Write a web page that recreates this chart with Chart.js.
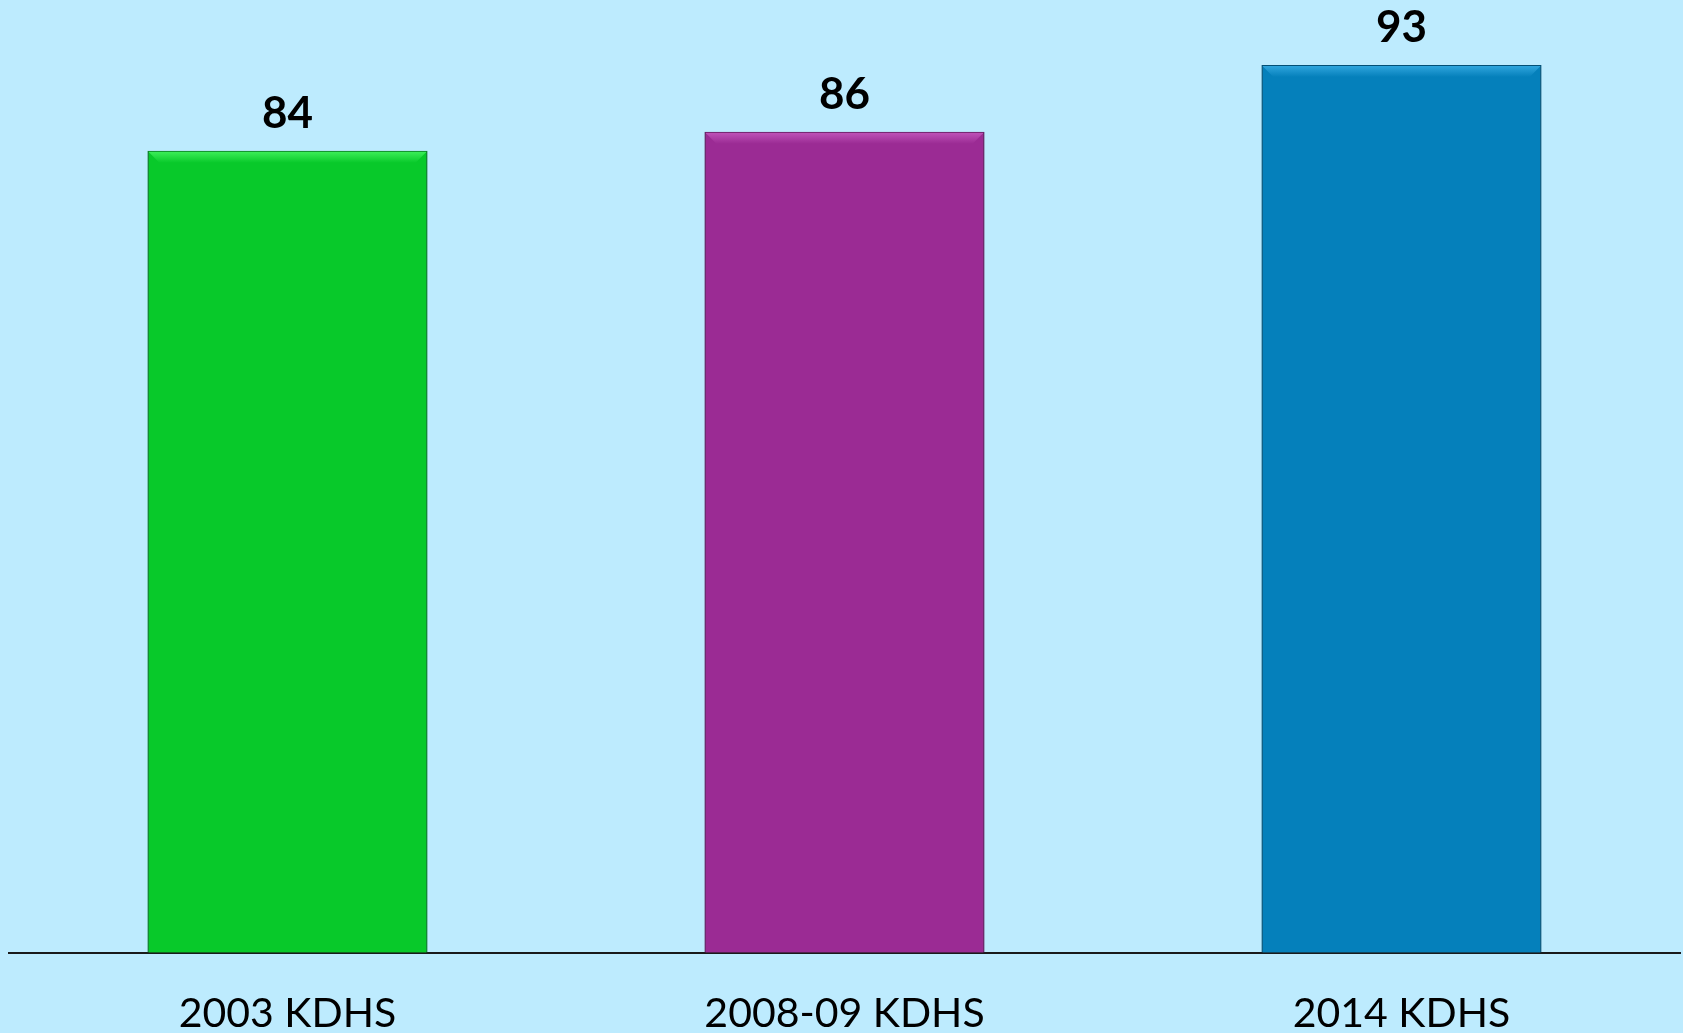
<!DOCTYPE html>
<html>
<head>
<meta charset="utf-8">
<script src="https://cdn.jsdelivr.net/npm/chart.js@4.4.1/dist/chart.umd.min.js"></script>
<style>
    html, body { margin: 0; padding: 0; background: #bdebfe; overflow: hidden; }
    #wrap { position: absolute; left: 0; top: 0; width: 1683px; height: 1074px; }
</style>
</head>
<body>
<div id="wrap"><canvas id="chart1"></canvas></div>
<script>
const chart1 = document.getElementById('chart1');

const categories = ['2003 KDHS', '2008-09 KDHS', '2014 KDHS'];
const values = [84, 86, 93];
const bar_colors = ['#08c92a', '#9b2b94', '#0580bb'];
const border_colors = ['#067a22', '#62195e', '#034f75'];
const top_colors = ['#3ff05c', '#c155bb', '#33a8e0'];

// value labels above bars + lighter bevel on top edge
const barExtras = {
    id: 'barExtras',
    afterDatasetsDraw(chart) {
        const ctx = chart.ctx;
        const meta = chart.getDatasetMeta(0);
        meta.data.forEach(function (bar, i) {
            const left = bar.x - bar.width / 2;
            const right = bar.x + bar.width / 2;
            ctx.save();
            // bevel top band
            let grad = ctx.createLinearGradient(0, bar.y, 0, bar.y + 12);
            grad.addColorStop(0, top_colors[i]);
            grad.addColorStop(1, bar_colors[i]);
            ctx.fillStyle = grad;
            ctx.beginPath();
            ctx.moveTo(left + 1, bar.y + 1);
            ctx.lineTo(right - 1, bar.y + 1);
            ctx.lineTo(right - 12, bar.y + 12);
            ctx.lineTo(left + 12, bar.y + 12);
            ctx.closePath();
            ctx.fill();
            // label
            ctx.fillStyle = '#000';
            ctx.font = 'bold 44px Lato';
            ctx.textAlign = 'center';
            ctx.textBaseline = 'alphabetic';
            ctx.fillText(values[i], bar.x, bar.y - 23);
            ctx.restore();
        });
    }
};

new Chart(chart1, {
    type: 'bar',
    data: {
        labels: categories,
        datasets: [{
            data: values,
            backgroundColor: bar_colors,
            borderColor: border_colors,
            borderWidth: 1.5,
            categoryPercentage: 1,
            barPercentage: 0.503
        }]
    },
    options: {
        responsive: true,
        maintainAspectRatio: false,
        animation: false,
        layout: { padding: { left: 9, right: 3, top: 0, bottom: 0 } },
        plugins: {
            legend: { display: false },
            tooltip: { enabled: false }
        },
        scales: {
            x: {
                grid: { display: false, drawTicks: false },
                border: { display: true, color: '#1a1a1a', width: 2 },
                ticks: {
                    color: '#000',
                    padding: 36,
                    font: { family: 'Lato', size: 41 }
                }
            },
            y: {
                display: false,
                min: 0,
                max: 99.8
            }
        }
    },
    plugins: [barExtras]
});
</script>
</body>
</html>
